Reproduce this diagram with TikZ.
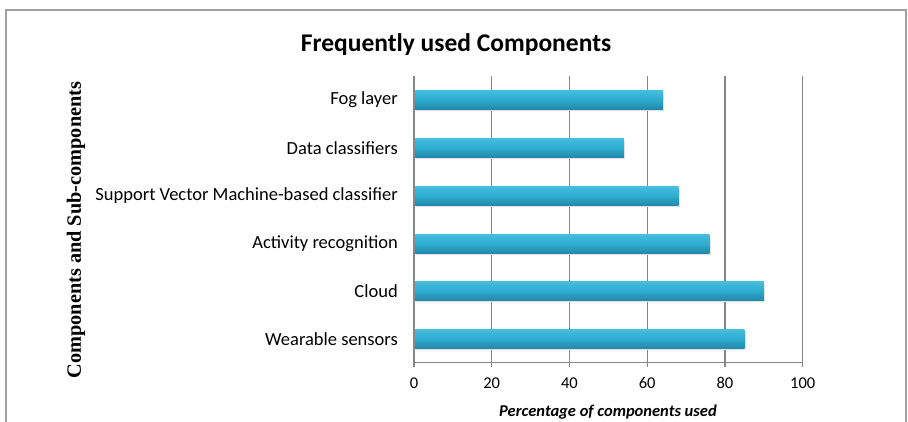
\documentclass[tikz,border=0pt]{standalone}
\usepackage{fontspec}
\setmainfont{Carlito}
\newfontfamily\timesbold[BoldFont={Liberation Serif Bold}]{Liberation Serif}
\definecolor{bartop}{RGB}{70,190,222}
\definecolor{barmid}{RGB}{45,172,208}
\definecolor{barbot}{RGB}{34,136,168}
\definecolor{framegray}{RGB}{160,160,160}
\definecolor{gridgray}{RGB}{135,135,135}
\tikzset{
  catlabel/.style={anchor=east, inner sep=0pt, font=\fontsize{18.5}{22}\selectfont},
  ticklabel/.style={anchor=center, inner sep=0pt, font=\fontsize{16.5}{19}\selectfont},
  gridline/.style={draw=gridgray, line width=1.4pt},
  barshadow/.style={fill=black!12},
  barfill/.style={top color=bartop, bottom color=barbot, middle color=barmid, draw=none},
}
\begin{document}
\begin{tikzpicture}[x=1pt, y=-1pt]
\useasboundingbox (0,0) rectangle (908,422);
% outer frame (open at the bottom)
\draw[draw=framegray, line width=1.6pt] (6,422) -- (6,10) -- (906,10) -- (906,422);
% chart title
\node[inner sep=0pt, font=\fontsize{25.5}{30}\selectfont\bfseries] (title) at (456,45) {Frequently used Components};
% vertical axis title
\node[inner sep=0pt, rotate=90, font=\timesbold\fontsize{20.3}{24}\selectfont\bfseries] (ytitle) at (76,230) {Components and Sub-components};
% vertical grid lines, tick marks and tick labels
\foreach \v in {0,20,...,100} {
  \coordinate (gt\v) at ({414+3.887*\v},76);
  \coordinate (gb\v) at ({414+3.887*\v},367);
  \draw[gridline] (gt\v) -- (gb\v);
  \node[ticklabel] (tick\v) at ({414+3.887*\v},383) {\v};
}
% horizontal axis line
\coordinate (axl) at (414,362.5);
\coordinate (axr) at (802.7,362.5);
\draw[gridline] (axl) -- (axr);
% bars with a soft drop shadow
\foreach \name/\val/\yc/\lab in {
  fog/64/99.7/{Fog layer},
  dc/54/148/{Data classifiers},
  svm/68/196/{Support Vector Machine-based classifier},
  act/76/244/{Activity recognition},
  cloud/90/291/{Cloud},
  wear/85/339/{Wearable sensors}} {
  \fill[barshadow] (416,{\yc-7}) rectangle ({414+3.887*\val+1.5},{\yc+11});
  \path[barfill] (415,{\yc-9.6}) rectangle ({414+3.887*\val},{\yc+9.6});
  \node[catlabel] (lab-\name) at (398,\yc) {\lab};
}
% horizontal axis title
\node[inner sep=0pt, font=\fontsize{16.5}{19}\selectfont\bfseries\itshape] (xtitle) at (608,412) {Percentage of components used};
\end{tikzpicture}
\end{document}
